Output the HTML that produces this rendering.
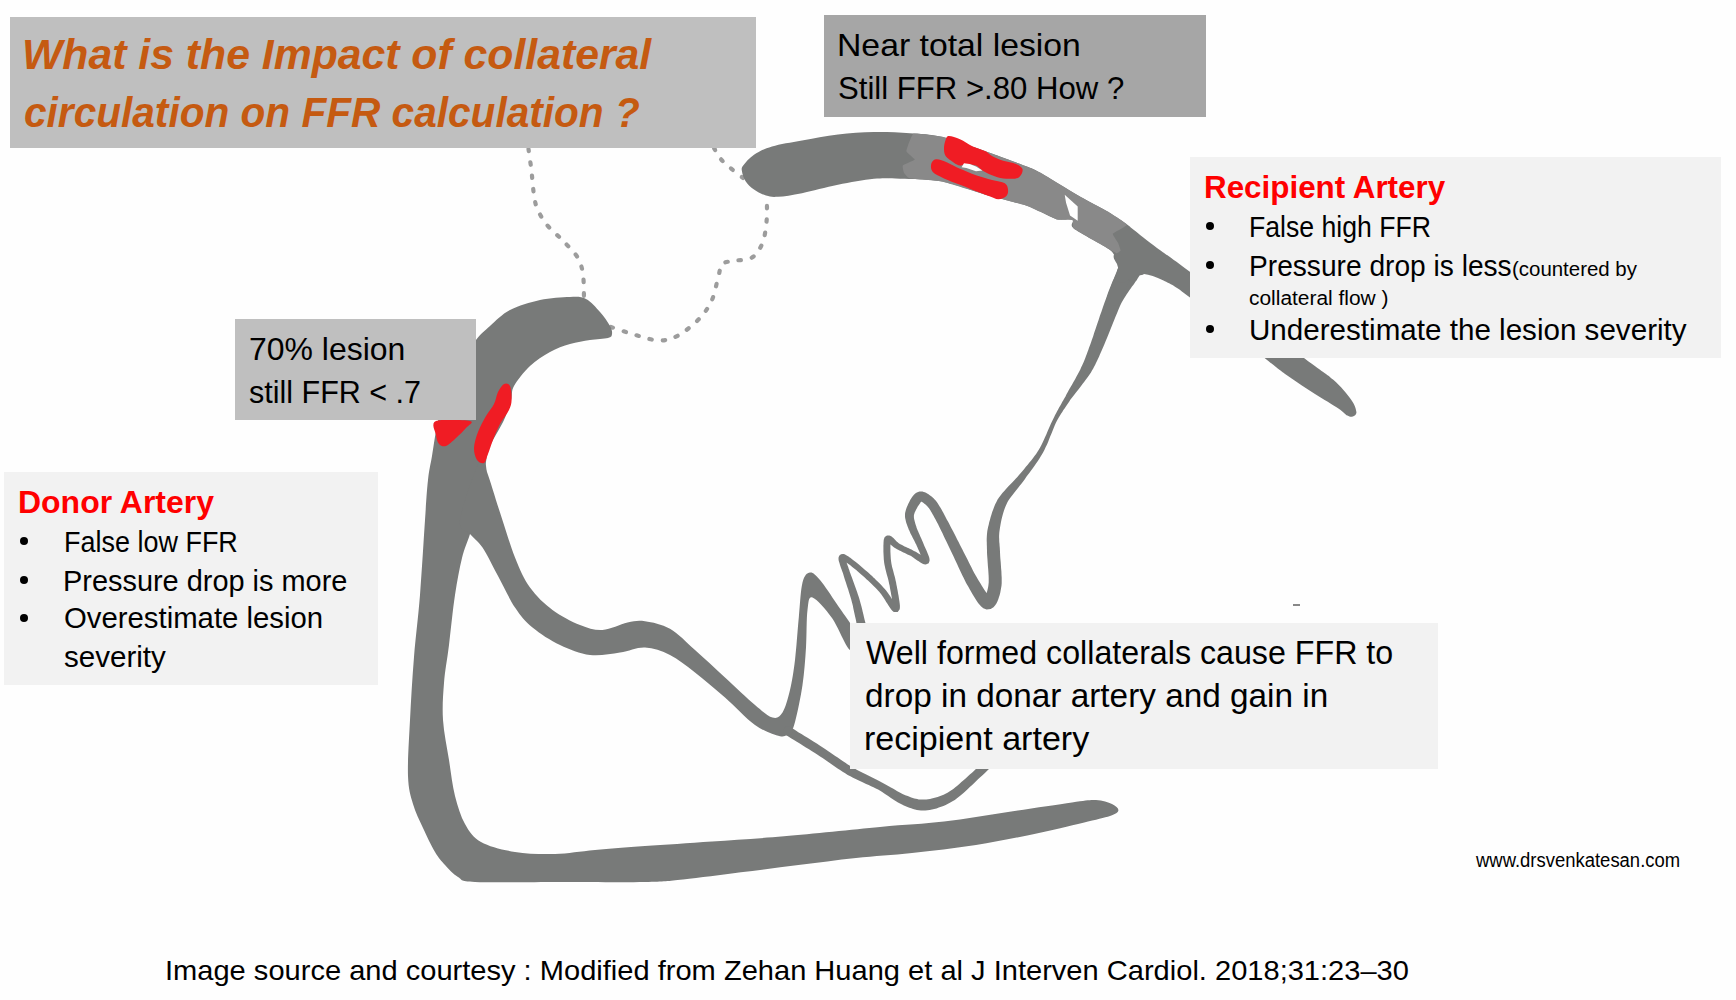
<!DOCTYPE html>
<html><head><meta charset="utf-8"><style>
html,body{margin:0;padding:0;background:#fefefe;width:1736px;height:1000px;overflow:hidden;position:relative}
.b{position:absolute}
.t{position:absolute;font-family:"Liberation Sans",sans-serif;white-space:nowrap;transform-origin:0 0}
.dot{position:absolute;width:8px;height:8px;border-radius:50%;background:#000}
svg{position:absolute;left:0;top:0}
</style></head><body>

<svg width="1736" height="1000" viewBox="0 0 1736 1000"><path d="M528.5,149.0 C528.9,152.0 530.3,161.7 531.0,167.0 C531.7,172.3 532.0,176.3 532.5,181.0 C533.0,185.7 533.2,190.5 534.0,195.0 C534.8,199.5 535.0,203.2 537.0,208.0 C539.0,212.8 541.9,218.5 546.2,224.0 C550.5,229.5 557.8,235.2 563.0,240.8 C568.2,246.4 574.4,252.0 577.7,257.6 C581.0,263.2 582.0,267.8 583.0,274.4 C584.0,281.0 583.8,293.2 584.0,297.0" fill="none" stroke="#9c9c9c" stroke-width="4.2" stroke-linecap="round" stroke-linejoin="round" stroke-dasharray="2.4 11"/><path d="M611.0,327.0 C615.2,328.4 628.4,333.1 636.5,335.3 C644.6,337.6 652.6,340.5 659.6,340.5 C666.6,340.5 671.9,339.0 678.5,335.3 C685.1,331.6 693.9,324.4 699.5,318.5 C705.1,312.6 709.0,306.6 712.1,299.6 C715.2,292.6 716.6,282.4 718.4,276.5 C720.1,270.6 719.8,266.5 722.6,263.9 C725.4,261.3 730.3,261.8 735.2,260.7 C740.1,259.6 747.5,260.6 752.0,257.6 C756.5,254.6 760.0,249.2 762.5,242.9 C765.0,236.6 766.0,227.6 766.7,219.8 C767.4,212.0 766.7,200.0 766.7,196.0" fill="none" stroke="#9c9c9c" stroke-width="4.2" stroke-linecap="round" stroke-linejoin="round" stroke-dasharray="2.4 11"/><path d="M714.0,148.0 C715.4,150.2 717.8,156.0 722.6,161.0 C727.4,166.0 739.6,175.2 743.0,178.0" fill="none" stroke="#9c9c9c" stroke-width="4.2" stroke-linecap="round" stroke-linejoin="round" stroke-dasharray="2.4 11"/><path d="M612.0,334.0 C612.3,332.0 612.0,329.7 610.0,326.0 C608.0,322.3 604.0,316.5 600.0,312.0 C596.0,307.5 591.0,301.5 586.0,299.0 C581.0,296.5 577.7,296.8 570.0,297.0 C562.3,297.2 550.0,297.8 540.0,300.0 C530.0,302.2 518.3,305.7 510.0,310.0 C501.7,314.3 495.7,321.0 490.0,326.0 C484.3,331.0 481.0,333.5 476.0,340.0 C471.0,346.5 464.8,355.8 460.0,365.0 C455.2,374.2 450.7,385.7 447.0,395.0 C443.3,404.3 440.5,410.8 438.0,421.0 C435.5,431.2 433.7,446.2 432.0,456.0 C430.3,465.8 429.2,469.3 428.0,480.0 C426.8,490.7 426.3,500.8 425.0,520.0 C423.7,539.2 421.8,572.2 420.0,595.0 C418.2,617.8 415.7,636.2 414.0,657.0 C412.3,677.8 411.0,700.2 410.0,720.0 C409.0,739.8 407.5,762.0 408.0,776.0 C408.5,790.0 410.5,795.3 413.0,804.0 C415.5,812.7 419.3,820.0 423.0,828.0 C426.7,836.0 431.3,845.8 435.0,852.0 C438.7,858.2 441.2,860.8 445.0,865.0 C448.8,869.2 453.0,874.2 458.0,877.0 C463.0,879.8 458.0,881.2 475.0,882.0 C492.0,882.8 531.7,882.0 560.0,882.0 C588.3,882.0 624.5,882.4 645.0,882.0 C665.5,881.6 667.0,881.1 683.0,879.5 C699.0,877.9 721.6,874.7 740.8,872.3 C760.0,869.9 779.2,867.5 798.4,865.1 C817.6,862.7 837.1,860.0 856.0,858.0 C874.9,856.0 892.0,855.2 912.0,853.0 C932.0,850.8 954.7,848.4 976.0,845.0 C997.3,841.6 1021.3,836.7 1040.0,832.8 C1058.7,828.9 1076.0,824.5 1088.0,821.6 C1100.0,818.7 1106.9,817.1 1112.0,815.2 C1117.1,813.3 1118.4,811.9 1118.4,810.0 C1118.4,808.1 1115.7,805.7 1112.0,804.0 C1108.3,802.3 1102.7,800.3 1096.0,800.0 C1089.3,799.7 1086.7,800.4 1072.0,802.4 C1057.3,804.4 1029.3,808.8 1008.0,812.0 C986.7,815.2 965.3,819.1 944.0,821.6 C922.7,824.1 906.7,824.5 880.0,827.0 C853.3,829.5 812.0,833.9 784.0,836.3 C756.0,838.7 735.2,839.8 712.0,841.4 C688.8,843.0 664.5,844.6 645.0,846.0 C625.5,847.4 610.0,848.7 595.0,850.0 C580.0,851.3 568.3,853.7 555.0,854.0 C541.7,854.3 527.3,854.0 515.0,852.0 C502.7,850.0 489.3,846.7 481.0,842.0 C472.7,837.3 469.3,831.7 465.0,824.0 C460.7,816.3 457.7,806.7 455.0,796.0 C452.3,785.3 451.0,772.7 449.0,760.0 C447.0,747.3 443.8,732.8 443.0,720.0 C442.2,707.2 443.0,695.5 444.0,683.0 C445.0,670.5 447.2,659.7 449.0,645.0 C450.8,630.3 452.8,609.5 455.0,595.0 C457.2,580.5 459.5,568.2 462.0,558.0 C464.5,547.8 467.3,542.8 470.0,534.0 C472.7,525.2 475.3,514.8 478.0,505.0 C480.7,495.2 484.7,482.2 486.0,475.0 C487.3,467.8 485.3,466.8 486.0,462.0 C486.7,457.2 487.0,453.0 490.0,446.0 C493.0,439.0 500.5,427.7 504.0,420.0 C507.5,412.3 509.3,405.7 511.0,400.0 C512.7,394.3 510.8,391.7 514.0,386.0 C517.2,380.3 524.0,371.7 530.0,366.0 C536.0,360.3 543.3,355.7 550.0,352.0 C556.7,348.3 563.3,346.0 570.0,344.0 C576.7,342.0 583.7,341.0 590.0,340.0 C596.3,339.0 604.3,339.0 608.0,338.0 C611.7,337.0 611.7,336.0 612.0,334.0Z" fill="#787a79"/><path d="M480.0,460.0 C484.5,452.0 483.7,463.2 487.0,472.0 C490.3,480.8 495.3,498.2 500.0,512.5 C504.7,526.8 510.0,545.0 515.0,557.5 C520.0,570.0 523.8,578.8 530.0,587.5 C536.2,596.2 544.2,603.8 552.5,610.0 C560.8,616.2 571.7,621.7 580.0,625.0 C588.3,628.3 594.6,630.4 602.5,630.0 C610.4,629.6 620.4,624.0 627.5,622.5 C634.6,621.0 637.9,620.2 645.0,621.2 C652.1,622.3 661.7,624.0 670.0,628.8 C678.3,633.5 685.8,641.9 695.0,650.0 C704.2,658.1 715.0,668.3 725.0,677.5 C735.0,686.7 747.1,698.3 755.0,705.0 C762.9,711.7 767.9,716.2 772.5,717.5 C777.1,718.8 779.6,717.1 782.5,712.5 C785.4,707.9 787.9,698.8 790.0,690.0 C792.1,681.2 793.5,672.1 795.0,660.0 C796.5,647.9 797.5,630.4 798.8,617.5 C800.0,604.6 800.6,590.0 802.5,582.5 C804.4,575.0 807.1,572.9 810.0,572.5 C812.9,572.1 815.4,574.6 820.0,580.0 C824.6,585.4 830.8,595.0 837.5,605.0 C844.2,615.0 857.9,632.5 860.0,640.0 C862.1,647.5 854.7,653.7 850.0,650.0 C845.3,646.3 838.2,626.8 832.0,618.0 C825.8,609.2 816.6,598.8 812.5,597.5 C808.4,596.2 808.6,601.7 807.5,610.0 C806.4,618.3 806.8,635.0 806.0,647.5 C805.2,660.0 804.3,672.6 802.5,685.0 C800.7,697.4 797.1,714.2 795.0,722.0 C792.9,729.8 792.5,729.6 790.0,732.0 C787.5,734.4 785.8,737.4 780.0,736.2 C774.2,735.1 764.2,731.5 755.0,725.0 C745.8,718.5 735.0,706.2 725.0,697.5 C715.0,688.8 704.2,679.6 695.0,672.5 C685.8,665.4 678.3,659.2 670.0,655.0 C661.7,650.8 653.3,647.9 645.0,647.5 C636.7,647.1 629.2,651.2 620.0,652.5 C610.8,653.8 600.0,656.2 590.0,655.0 C580.0,653.8 569.6,649.6 560.0,645.0 C550.4,640.4 540.0,633.8 532.5,627.5 C525.0,621.2 520.8,616.2 515.0,607.5 C509.2,598.8 502.9,585.0 497.5,575.0 C492.1,565.0 487.1,554.3 482.5,547.5 C477.9,540.7 473.8,538.6 470.0,534.0 C466.2,529.4 458.3,532.3 460.0,520.0 C461.7,507.7 475.5,468.0 480.0,460.0Z" fill="#787a79"/><path d="M785.6,734.8 L787.2,735.8 L789.1,737.0 L791.4,738.4 L794.0,740.0 L796.8,741.7 L799.8,743.6 L802.8,745.5 L805.9,747.4 L809.0,749.3 L812.0,751.2 L814.9,753.1 L817.6,754.8 L820.1,756.4 L822.6,758.1 L825.1,759.8 L827.6,761.5 L830.1,763.3 L832.6,765.0 L835.1,766.7 L837.6,768.4 L840.1,770.1 L842.6,771.8 L845.2,773.3 L847.7,774.9 L850.4,776.3 L853.0,777.7 L855.7,779.0 L858.3,780.3 L861.0,781.5 L863.6,782.7 L866.1,783.9 L868.7,785.0 L871.1,786.2 L873.5,787.3 L875.9,788.4 L878.1,789.5 L880.2,790.8 L882.2,792.1 L884.3,793.4 L886.2,794.7 L888.2,796.1 L890.2,797.4 L892.1,798.7 L894.0,800.0 L896.0,801.3 L898.0,802.5 L900.0,803.6 L902.0,804.6 L903.9,805.4 L905.7,806.2 L907.5,807.0 L909.4,807.7 L911.2,808.3 L913.1,808.9 L915.0,809.5 L916.9,809.9 L918.9,810.2 L921.0,810.4 L923.2,810.5 L925.3,810.5 L927.5,810.3 L929.7,809.9 L932.0,809.5 L934.2,809.0 L936.5,808.4 L938.8,807.6 L941.1,806.8 L943.4,805.9 L945.7,804.9 L948.0,803.8 L950.3,802.6 L952.5,801.3 L954.8,799.9 L957.0,798.3 L959.2,796.6 L961.4,794.8 L963.5,793.0 L965.7,791.1 L967.8,789.1 L969.8,787.1 L971.9,785.2 L974.0,783.2 L976.0,781.2 L978.0,779.3 L980.2,777.3 L982.5,775.2 L984.9,772.9 L987.4,770.6 L989.8,768.2 L992.2,765.9 L994.5,763.7 L996.7,761.5 L998.7,759.6 L1000.4,757.9 L1001.9,756.4 L1003.1,755.2 L996.9,748.8 L995.7,749.9 L994.1,751.4 L992.4,753.2 L990.4,755.1 L988.2,757.2 L985.9,759.5 L983.6,761.8 L981.1,764.1 L978.7,766.4 L976.4,768.6 L974.1,770.7 L972.0,772.7 L969.8,774.6 L967.7,776.5 L965.6,778.4 L963.5,780.3 L961.4,782.1 L959.3,783.9 L957.3,785.7 L955.3,787.3 L953.3,788.9 L951.3,790.3 L949.4,791.6 L947.5,792.7 L945.5,793.7 L943.6,794.7 L941.6,795.5 L939.6,796.3 L937.6,797.0 L935.7,797.6 L933.7,798.1 L931.8,798.6 L930.0,798.9 L928.1,799.2 L926.3,799.4 L924.7,799.5 L923.1,799.6 L921.6,799.6 L920.1,799.5 L918.7,799.4 L917.3,799.1 L915.8,798.8 L914.3,798.4 L912.8,797.9 L911.2,797.4 L909.5,796.8 L907.8,796.1 L906.0,795.4 L904.2,794.7 L902.5,793.9 L900.7,793.0 L898.8,792.0 L896.9,791.0 L895.0,789.8 L892.9,788.6 L890.9,787.4 L888.7,786.2 L886.5,784.9 L884.2,783.7 L881.9,782.5 L879.6,781.2 L877.2,780.0 L874.7,778.7 L872.2,777.5 L869.7,776.3 L867.2,775.0 L864.7,773.8 L862.1,772.5 L859.6,771.2 L857.1,769.9 L854.7,768.5 L852.3,767.1 L849.9,765.7 L847.4,764.2 L845.0,762.6 L842.6,761.0 L840.1,759.3 L837.7,757.6 L835.2,755.9 L832.7,754.2 L830.2,752.4 L827.6,750.7 L825.1,748.9 L822.4,747.2 L819.7,745.5 L816.8,743.6 L813.8,741.7 L810.7,739.8 L807.6,737.8 L804.5,735.9 L801.5,734.1 L798.7,732.4 L796.2,730.8 L793.9,729.3 L791.9,728.1 L790.4,727.2Z" fill="#787a79"/><circle cx="788.0" cy="731.0" r="4.5" fill="#787a79"/><circle cx="1000.0" cy="752.0" r="4.5" fill="#787a79"/><path d="M866.4,627.0 L866.1,625.8 L865.7,624.1 L865.2,622.1 L864.6,619.8 L864.0,617.3 L863.4,614.6 L862.7,611.8 L862.1,609.0 L861.4,606.3 L860.7,603.7 L860.0,601.2 L859.4,598.9 L858.7,596.7 L857.9,594.4 L857.1,592.0 L856.2,589.5 L855.3,587.0 L854.4,584.5 L853.5,582.1 L852.7,579.8 L851.9,577.5 L851.1,575.5 L850.4,573.6 L849.8,571.9 L849.3,570.3 L848.7,568.7 L848.2,567.1 L847.6,565.5 L847.1,564.1 L846.6,562.7 L846.2,561.4 L845.9,560.3 L845.6,559.4 L845.5,558.7 L845.5,558.5 L845.4,558.8 L844.9,559.7 L843.9,560.5 L843.0,560.7 L842.6,560.6 L842.7,560.6 L843.1,560.7 L843.6,561.0 L844.3,561.3 L845.1,561.8 L845.9,562.3 L846.8,562.8 L847.8,563.4 L848.8,564.2 L850.0,565.1 L851.4,566.2 L852.9,567.4 L854.5,568.7 L856.2,570.1 L857.8,571.6 L859.5,573.0 L861.2,574.4 L862.7,575.8 L864.2,577.0 L865.5,578.2 L866.7,579.4 L868.0,580.5 L869.3,581.7 L870.6,583.0 L871.9,584.2 L873.1,585.5 L874.4,586.7 L875.7,588.0 L876.9,589.3 L878.0,590.5 L879.2,591.8 L880.2,592.9 L881.2,594.3 L882.4,595.9 L883.6,597.8 L884.9,599.8 L886.2,601.9 L887.6,604.0 L888.8,606.0 L890.0,607.8 L891.2,609.4 L892.3,610.7 L893.8,612.0 L897.7,612.0 L899.7,609.3 L899.9,607.5 L899.9,605.6 L899.7,603.5 L899.4,601.2 L899.0,598.7 L898.6,596.1 L898.1,593.5 L897.7,590.9 L897.2,588.5 L896.8,586.3 L896.4,584.4 L896.1,582.5 L895.6,580.6 L895.2,578.6 L894.7,576.6 L894.1,574.6 L893.6,572.6 L893.1,570.6 L892.6,568.7 L892.1,566.9 L891.7,565.1 L891.4,563.5 L891.2,562.0 L891.0,560.5 L890.8,558.8 L890.7,557.1 L890.6,555.3 L890.5,553.4 L890.4,551.6 L890.4,549.9 L890.4,548.2 L890.4,546.7 L890.4,545.3 L890.5,544.1 L890.5,543.2 L890.5,542.4 L890.6,541.8 L890.6,541.3 L890.7,540.9 L890.7,540.8 L890.7,541.0 L890.4,541.3 L889.9,541.9 L889.1,542.3 L888.5,542.4 L888.1,542.4 L887.9,542.3 L887.7,542.2 L887.9,542.3 L888.3,542.6 L888.9,543.0 L889.5,543.6 L890.3,544.2 L891.1,544.9 L892.0,545.7 L892.9,546.4 L893.8,547.2 L894.9,547.9 L895.9,548.5 L897.0,549.2 L898.1,549.8 L899.4,550.4 L900.7,551.1 L902.0,551.8 L903.4,552.4 L904.8,553.1 L906.2,553.7 L907.5,554.4 L908.8,555.0 L910.0,555.6 L911.1,556.1 L912.1,556.8 L913.2,557.5 L914.5,558.4 L915.9,559.4 L917.3,560.4 L918.7,561.3 L920.0,562.2 L921.3,563.1 L922.6,563.8 L923.9,564.3 L925.8,564.6 L928.7,563.2 L929.6,560.7 L929.5,559.1 L929.2,557.6 L928.7,556.1 L928.1,554.5 L927.4,552.8 L926.7,551.0 L925.9,549.3 L925.1,547.6 L924.4,545.9 L923.8,544.5 L923.2,543.1 L922.7,541.8 L922.1,540.4 L921.5,538.9 L920.8,537.4 L920.1,535.9 L919.5,534.4 L918.8,533.0 L918.2,531.6 L917.6,530.2 L917.1,528.9 L916.6,527.7 L916.3,526.6 L915.9,525.5 L915.6,524.4 L915.2,523.3 L914.9,522.1 L914.6,521.1 L914.4,520.0 L914.1,519.0 L914.0,518.0 L913.9,517.2 L913.9,516.3 L913.9,515.6 L914.0,515.0 L914.1,514.4 L914.4,513.6 L914.7,512.6 L915.2,511.5 L915.7,510.4 L916.3,509.3 L916.9,508.2 L917.5,507.1 L918.1,506.1 L918.7,505.2 L919.2,504.4 L919.7,503.8 L920.1,503.2 L920.4,502.6 L920.8,502.2 L921.1,501.8 L921.3,501.5 L921.5,501.3 L921.6,501.3 L921.6,501.3 L921.4,501.4 L921.2,501.4 L920.9,501.4 L920.6,501.4 L920.7,501.4 L921.0,501.6 L921.5,501.8 L922.1,502.1 L922.9,502.6 L923.6,503.1 L924.4,503.7 L925.2,504.3 L926.0,505.0 L926.8,505.7 L927.5,506.4 L928.1,507.2 L928.8,508.0 L929.5,509.0 L930.2,510.1 L931.0,511.4 L931.8,512.7 L932.6,514.2 L933.5,515.7 L934.4,517.4 L935.3,519.0 L936.2,520.8 L937.1,522.5 L938.1,524.3 L939.0,526.3 L940.1,528.4 L941.2,530.8 L942.5,533.3 L943.7,535.9 L945.0,538.7 L946.4,541.4 L947.7,544.2 L949.0,546.9 L950.2,549.6 L951.4,552.1 L952.6,554.4 L953.7,556.8 L954.8,559.2 L956.0,561.8 L957.3,564.5 L958.5,567.3 L959.8,570.0 L961.1,572.7 L962.4,575.4 L963.7,578.0 L964.9,580.5 L966.1,582.9 L967.3,585.0 L968.5,587.1 L969.7,589.3 L971.0,591.6 L972.4,593.9 L973.8,596.3 L975.2,598.6 L976.6,600.8 L978.1,602.9 L979.6,604.8 L981.2,606.5 L983.3,608.2 L986.6,609.4 L990.7,608.9 L993.5,607.2 L995.2,605.3 L996.4,603.4 L997.4,601.4 L998.3,599.3 L999.0,597.1 L999.7,594.9 L1000.3,592.6 L1000.7,590.3 L1001.1,588.0 L1001.5,585.7 L1001.7,583.2 L1001.7,580.5 L1001.7,577.6 L1001.5,574.6 L1001.4,571.4 L1001.1,568.3 L1000.9,565.1 L1000.7,562.0 L1000.4,559.1 L1000.2,556.3 L1000.1,553.9 L1000.0,551.8 L999.9,549.7 L999.8,547.7 L999.6,545.8 L999.5,544.0 L999.3,542.2 L999.2,540.5 L999.2,538.9 L999.1,537.3 L999.1,535.7 L999.2,534.2 L999.3,532.6 L999.5,531.0 L999.8,529.1 L1000.1,527.0 L1000.5,524.8 L1000.9,522.5 L1001.4,520.1 L1002.0,517.6 L1002.6,515.2 L1003.3,512.8 L1004.0,510.5 L1004.8,508.3 L1005.6,506.2 L1006.4,504.4 L1007.3,502.6 L1008.4,500.6 L1009.8,498.6 L1011.3,496.5 L1012.9,494.4 L1014.6,492.2 L1016.4,490.0 L1018.2,487.8 L1019.9,485.6 L1021.6,483.4 L1023.3,481.2 L1024.8,479.2 L1026.2,477.1 L1027.7,475.1 L1029.3,472.9 L1030.9,470.7 L1032.6,468.4 L1034.2,466.2 L1035.9,463.8 L1037.5,461.5 L1039.0,459.2 L1040.5,456.8 L1041.9,454.5 L1043.2,452.2 L1044.4,449.9 L1045.6,447.3 L1046.9,444.7 L1048.1,441.9 L1049.2,439.0 L1050.4,436.1 L1051.6,433.3 L1052.7,430.5 L1053.8,427.8 L1054.8,425.3 L1055.8,423.0 L1056.8,420.9 L1057.9,419.0 L1058.9,417.2 L1060.0,415.4 L1061.2,413.6 L1062.3,411.9 L1063.4,410.1 L1064.6,408.4 L1065.7,406.7 L1066.9,404.9 L1068.1,403.2 L1069.3,401.4 L1070.5,399.6 L1071.9,397.8 L1073.5,395.7 L1075.2,393.6 L1077.0,391.3 L1078.8,388.9 L1080.7,386.5 L1082.5,384.1 L1084.3,381.7 L1086.1,379.3 L1087.8,377.0 L1089.4,374.7 L1090.8,372.7 L1092.0,370.6 L1093.1,368.7 L1094.1,366.7 L1095.2,364.8 L1096.1,362.8 L1097.1,360.8 L1098.0,358.8 L1099.0,356.7 L1099.9,354.5 L1100.9,352.3 L1101.9,349.9 L1103.0,347.4 L1104.3,344.5 L1105.7,341.1 L1107.2,337.4 L1108.8,333.4 L1110.5,329.2 L1112.2,325.0 L1113.9,320.8 L1115.6,316.6 L1117.2,312.7 L1118.7,309.1 L1120.1,305.8 L1121.4,303.1 L1122.7,300.8 L1124.0,298.6 L1125.3,296.4 L1126.7,294.3 L1128.1,292.2 L1129.4,290.3 L1130.7,288.4 L1132.0,286.6 L1133.3,284.9 L1134.5,283.2 L1135.6,281.6 L1136.7,280.2 L1137.5,278.8 L1138.3,277.4 L1139.1,276.2 L1139.9,274.9 L1140.6,273.7 L1141.3,272.6 L1142.0,271.5 L1142.6,270.5 L1143.2,269.7 L1143.7,268.9 L1144.2,268.2 L1144.6,267.7 L1123.4,256.3 L1123.2,256.9 L1122.9,257.6 L1122.6,258.4 L1122.1,259.4 L1121.7,260.5 L1121.1,261.6 L1120.5,262.8 L1119.9,264.2 L1119.3,265.5 L1118.6,266.9 L1118.0,268.4 L1117.3,269.8 L1116.8,271.3 L1116.1,273.0 L1115.4,274.8 L1114.6,276.8 L1113.7,278.9 L1112.7,281.1 L1111.7,283.5 L1110.7,286.0 L1109.7,288.6 L1108.6,291.2 L1107.6,294.0 L1106.6,296.9 L1105.5,299.9 L1104.2,303.4 L1102.9,307.3 L1101.5,311.4 L1100.0,315.6 L1098.6,320.0 L1097.1,324.3 L1095.7,328.6 L1094.3,332.6 L1093.1,336.4 L1091.9,339.7 L1091.0,342.6 L1090.0,345.2 L1089.1,347.6 L1088.3,349.9 L1087.5,352.1 L1086.8,354.1 L1086.0,356.1 L1085.3,358.0 L1084.5,359.9 L1083.8,361.7 L1083.0,363.6 L1082.1,365.4 L1081.2,367.3 L1080.3,369.4 L1079.1,371.7 L1077.9,374.1 L1076.5,376.6 L1075.1,379.2 L1073.6,381.8 L1072.1,384.4 L1070.6,387.0 L1069.1,389.6 L1067.8,392.0 L1066.5,394.3 L1065.5,396.4 L1064.4,398.3 L1063.3,400.2 L1062.2,402.0 L1061.2,403.9 L1060.2,405.7 L1059.1,407.5 L1058.1,409.4 L1057.1,411.3 L1056.1,413.2 L1055.1,415.1 L1054.2,417.1 L1053.2,419.1 L1052.1,421.2 L1051.0,423.6 L1049.8,426.2 L1048.7,428.8 L1047.5,431.6 L1046.3,434.4 L1045.0,437.2 L1043.8,440.0 L1042.5,442.7 L1041.3,445.2 L1040.1,447.6 L1038.8,449.8 L1037.5,451.8 L1036.1,453.9 L1034.5,456.0 L1032.9,458.2 L1031.2,460.4 L1029.4,462.5 L1027.7,464.7 L1025.9,466.8 L1024.2,468.9 L1022.5,471.0 L1020.8,473.0 L1019.2,474.8 L1017.6,476.7 L1015.9,478.5 L1014.1,480.5 L1012.2,482.5 L1010.2,484.5 L1008.2,486.6 L1006.2,488.7 L1004.3,490.9 L1002.4,493.0 L1000.7,495.2 L999.0,497.4 L997.6,499.6 L996.4,501.9 L995.2,504.3 L994.1,506.9 L993.2,509.4 L992.2,512.1 L991.4,514.7 L990.6,517.3 L989.9,519.9 L989.2,522.3 L988.7,524.7 L988.1,526.9 L987.7,529.0 L987.3,531.1 L987.1,533.1 L986.9,535.1 L986.8,537.1 L986.7,539.0 L986.7,540.9 L986.8,542.8 L986.8,544.6 L986.9,546.5 L986.9,548.3 L987.0,550.2 L987.0,552.2 L987.1,554.6 L987.3,557.2 L987.5,560.1 L987.7,563.0 L987.9,566.1 L988.2,569.2 L988.4,572.3 L988.6,575.2 L988.7,578.0 L988.7,580.5 L988.7,582.6 L988.5,584.3 L988.3,586.0 L988.0,587.8 L987.6,589.6 L987.1,591.5 L986.6,593.2 L986.1,594.8 L985.6,596.1 L985.1,597.1 L984.8,597.6 L984.9,597.5 L986.0,596.8 L988.4,596.6 L989.9,597.1 L989.9,597.1 L989.2,596.4 L988.1,595.2 L986.9,593.6 L985.7,591.8 L984.3,589.7 L982.9,587.6 L981.5,585.3 L980.2,583.1 L978.9,581.0 L977.7,579.0 L976.6,577.1 L975.4,575.0 L974.1,572.7 L972.8,570.2 L971.5,567.6 L970.2,565.0 L968.8,562.3 L967.5,559.6 L966.2,557.0 L964.9,554.4 L963.6,551.9 L962.4,549.6 L961.2,547.2 L959.9,544.8 L958.6,542.1 L957.2,539.5 L955.9,536.7 L954.5,534.0 L953.1,531.3 L951.7,528.7 L950.4,526.2 L949.2,523.8 L948.0,521.6 L946.9,519.7 L946.0,517.9 L945.0,516.1 L944.1,514.3 L943.2,512.6 L942.3,510.9 L941.4,509.3 L940.5,507.7 L939.5,506.2 L938.6,504.7 L937.7,503.3 L936.8,502.0 L935.9,500.8 L934.9,499.7 L933.8,498.6 L932.7,497.6 L931.6,496.6 L930.5,495.7 L929.4,494.9 L928.2,494.1 L927.1,493.4 L926.0,492.8 L924.8,492.3 L923.7,491.9 L922.4,491.6 L920.9,491.4 L919.5,491.6 L918.1,491.9 L916.9,492.4 L915.9,493.1 L915.0,493.8 L914.2,494.5 L913.5,495.3 L912.9,496.0 L912.3,496.8 L911.8,497.5 L911.3,498.2 L910.8,499.1 L910.2,500.1 L909.6,501.3 L909.0,502.5 L908.3,503.8 L907.7,505.2 L907.1,506.6 L906.5,508.1 L906.0,509.5 L905.6,511.0 L905.2,512.5 L905.0,514.0 L905.0,515.4 L905.0,516.8 L905.2,518.2 L905.5,519.6 L905.8,520.9 L906.1,522.2 L906.5,523.4 L907.0,524.7 L907.4,525.9 L907.8,527.1 L908.3,528.2 L908.7,529.4 L909.3,530.6 L909.9,532.0 L910.5,533.4 L911.2,534.8 L912.0,536.3 L912.7,537.7 L913.5,539.2 L914.2,540.6 L914.9,542.0 L915.6,543.4 L916.2,544.6 L916.8,545.9 L917.4,547.2 L918.0,548.8 L918.8,550.4 L919.5,552.1 L920.2,553.8 L920.9,555.4 L921.6,557.0 L922.1,558.4 L922.5,559.5 L922.6,560.2 L922.7,560.3 L923.3,558.8 L925.4,557.7 L925.9,557.8 L925.4,557.7 L924.6,557.2 L923.5,556.6 L922.2,555.9 L920.8,555.0 L919.4,554.1 L918.0,553.2 L916.6,552.3 L915.2,551.5 L913.9,550.9 L912.7,550.2 L911.5,549.6 L910.1,549.0 L908.8,548.3 L907.4,547.7 L906.0,547.0 L904.6,546.4 L903.3,545.7 L902.1,545.1 L900.9,544.5 L899.9,544.0 L899.1,543.5 L898.4,542.9 L897.7,542.3 L896.9,541.7 L896.2,541.0 L895.5,540.2 L894.8,539.5 L894.1,538.8 L893.4,538.1 L892.7,537.4 L892.0,536.8 L891.1,536.2 L890.1,535.7 L889.2,535.5 L888.2,535.4 L887.0,535.6 L885.8,536.2 L884.8,537.1 L884.3,538.1 L884.0,538.9 L883.8,539.6 L883.7,540.4 L883.6,541.1 L883.6,541.9 L883.5,542.8 L883.5,543.9 L883.4,545.2 L883.4,546.6 L883.4,548.2 L883.4,550.0 L883.4,551.8 L883.5,553.7 L883.6,555.6 L883.7,557.5 L883.8,559.4 L884.0,561.2 L884.2,563.0 L884.5,564.8 L884.9,566.6 L885.3,568.5 L885.8,570.4 L886.3,572.4 L886.8,574.4 L887.4,576.4 L887.9,578.3 L888.4,580.3 L888.8,582.1 L889.2,583.9 L889.6,585.6 L889.9,587.6 L890.3,589.8 L890.8,592.2 L891.2,594.7 L891.7,597.3 L892.1,599.8 L892.5,602.2 L892.7,604.3 L892.9,606.1 L892.9,607.3 L892.9,607.6 L894.3,606.0 L897.1,605.9 L897.2,605.9 L896.5,605.1 L895.5,603.9 L894.3,602.3 L893.0,600.4 L891.6,598.4 L890.2,596.3 L888.8,594.3 L887.4,592.3 L886.1,590.6 L884.8,589.1 L883.6,587.8 L882.5,586.4 L881.2,585.1 L880.0,583.8 L878.7,582.5 L877.4,581.2 L876.0,579.9 L874.7,578.6 L873.4,577.4 L872.1,576.1 L870.8,574.9 L869.5,573.8 L868.2,572.6 L866.7,571.3 L865.1,569.9 L863.4,568.4 L861.7,567.0 L860.0,565.5 L858.3,564.1 L856.7,562.8 L855.1,561.5 L853.7,560.4 L852.4,559.4 L851.2,558.6 L850.3,557.8 L849.4,557.2 L848.5,556.5 L847.6,555.9 L846.7,555.4 L845.9,554.9 L845.0,554.5 L844.0,554.1 L842.7,554.0 L841.0,554.3 L839.4,555.5 L838.6,557.2 L838.5,558.7 L838.6,559.9 L838.8,561.0 L839.2,562.3 L839.6,563.6 L840.0,564.9 L840.5,566.4 L841.0,567.9 L841.6,569.4 L842.1,571.0 L842.7,572.5 L843.2,574.1 L843.7,575.8 L844.3,577.8 L845.0,579.9 L845.8,582.2 L846.5,584.5 L847.3,587.0 L848.2,589.5 L848.9,592.0 L849.7,594.4 L850.4,596.8 L851.1,599.0 L851.6,601.1 L852.2,603.2 L852.8,605.6 L853.3,608.2 L853.9,610.9 L854.5,613.7 L855.1,616.4 L855.7,619.1 L856.2,621.6 L856.6,623.9 L857.0,626.0 L857.4,627.7 L857.6,629.0Z" fill="#787a79"/><circle cx="862.0" cy="628.0" r="4.5" fill="#787a79"/><circle cx="1134.0" cy="262.0" r="12.0" fill="#787a79"/><path d="M1114.0,254.5 C1112.0,259.1 1118.2,262.9 1118.0,267.5 C1117.8,272.1 1114.8,276.1 1112.8,281.8 C1110.8,287.6 1106.0,298.1 1106.0,302.0 C1106.0,305.9 1111.0,304.7 1113.0,305.0 C1115.0,305.3 1116.1,306.5 1118.0,304.0 C1119.9,301.5 1121.9,294.6 1124.5,290.0 C1127.1,285.4 1130.3,279.3 1133.6,276.6 C1136.8,273.9 1141.3,276.4 1144.0,274.0 C1146.7,271.6 1152.3,267.7 1150.0,262.0 C1147.7,256.3 1136.0,241.2 1130.0,240.0 C1124.0,238.8 1116.0,249.9 1114.0,254.5Z" fill="#787a79"/><path d="M742.0,171.6 C741.6,169.0 741.2,168.4 743.2,165.6 C745.2,162.8 749.2,158.0 754.0,154.8 C758.8,151.6 764.0,148.8 772.0,146.4 C780.0,144.0 791.0,142.4 802.0,140.4 C813.0,138.4 826.0,135.8 838.0,134.4 C850.0,133.0 862.0,132.2 874.0,132.0 C886.0,131.8 898.7,132.4 910.0,133.2 C921.3,134.0 929.7,133.9 942.0,136.8 C954.3,139.7 970.0,145.9 984.0,150.8 C998.0,155.7 1016.7,162.6 1026.0,166.2 C1035.3,169.8 1031.2,167.6 1040.0,172.6 C1048.8,177.6 1067.7,189.5 1079.0,196.0 C1090.3,202.5 1099.6,206.8 1107.6,211.6 C1115.6,216.4 1122.8,221.6 1127.1,224.6 C1131.4,227.6 1128.6,225.9 1133.6,229.8 C1138.6,233.7 1147.7,241.1 1157.0,248.0 C1166.3,254.9 1165.0,253.1 1189.5,271.4 C1214.0,289.7 1280.1,340.0 1304.0,358.0 C1327.9,376.0 1325.2,372.7 1333.0,379.6 C1340.8,386.5 1347.1,394.0 1351.0,399.4 C1354.9,404.8 1356.1,409.1 1356.4,412.0 C1356.7,414.9 1354.3,415.9 1352.8,416.5 C1351.3,417.1 1349.8,417.0 1347.4,415.6 C1345.0,414.2 1343.8,412.0 1338.4,408.4 C1333.0,404.8 1323.4,399.4 1315.0,394.0 C1306.6,388.6 1296.4,382.0 1288.0,376.0 C1279.6,370.0 1280.9,371.1 1264.6,358.0 C1248.3,344.9 1206.8,310.3 1190.0,297.4 C1173.2,284.5 1171.2,284.4 1163.5,280.5 C1155.8,276.6 1149.0,274.6 1144.0,274.0 C1139.0,273.4 1136.8,275.3 1133.6,276.6 C1130.4,277.9 1127.9,281.4 1125.0,282.0 C1122.1,282.6 1117.2,282.4 1116.0,280.0 C1114.8,277.6 1118.3,271.8 1118.0,267.5 C1117.7,263.2 1116.2,258.0 1114.0,254.5 C1111.8,251.0 1111.7,251.0 1105.0,246.7 C1098.3,242.4 1079.2,232.9 1073.8,228.5 C1068.4,224.1 1075.3,221.5 1072.5,220.0 C1069.7,218.5 1062.4,220.8 1057.0,219.4 C1051.6,218.0 1045.2,213.9 1040.0,211.6 C1034.8,209.3 1035.3,208.3 1026.0,205.4 C1016.7,202.5 998.0,198.2 984.0,194.2 C970.0,190.2 956.0,184.2 942.0,181.6 C928.0,179.0 911.3,179.3 900.0,178.8 C888.7,178.3 884.3,177.8 874.0,178.8 C863.7,179.8 850.0,182.4 838.0,184.8 C826.0,187.2 812.0,191.2 802.0,193.2 C792.0,195.2 784.0,196.4 778.0,196.8 C772.0,197.2 770.0,196.8 766.0,195.6 C762.0,194.4 757.4,192.0 754.0,189.6 C750.6,187.2 747.6,184.2 745.6,181.2 C743.6,178.2 742.4,174.2 742.0,171.6Z" fill="#787a79"/><path d="M913.6,133.5 C915.4,132.8 938.5,135.9 942.0,136.8 C945.5,137.7 979.8,149.3 984.0,150.8 C988.2,152.3 1023.2,165.1 1026.0,166.2 C1028.8,167.3 1037.3,171.1 1040.0,172.6 C1042.7,174.1 1075.6,194.1 1079.0,196.0 C1082.4,197.9 1105.2,210.2 1107.6,211.6 C1110.0,213.0 1126.7,223.5 1127.0,224.6 C1127.3,225.7 1113.2,232.8 1112.8,233.7 C1112.3,234.6 1117.6,242.0 1118.0,242.8 C1118.4,243.6 1120.7,250.1 1120.6,250.6 C1120.5,251.1 1117.5,253.4 1116.7,253.2 C1115.9,253.0 1107.1,247.9 1105.0,246.7 C1102.9,245.5 1075.4,229.8 1073.8,228.5 C1072.2,227.2 1073.3,220.5 1072.5,220.0 C1071.7,219.5 1058.6,219.8 1057.0,219.4 C1055.4,219.0 1041.5,212.3 1040.0,211.6 C1038.5,210.9 1028.8,206.3 1026.0,205.4 C1023.2,204.5 988.2,195.4 984.0,194.2 C979.8,193.0 945.7,182.4 942.0,181.6 C938.3,180.8 911.9,179.0 910.0,178.6 C908.1,178.2 904.4,173.5 904.0,172.8 C903.6,172.2 902.3,166.3 902.8,165.6 C903.3,164.9 914.6,160.3 914.8,159.6 C915.0,158.9 906.5,152.5 906.4,151.2 C906.3,149.9 911.8,134.2 913.6,133.5Z" fill="#898989"/><path d="M1064.7,194.7 L1077.7,206.4 L1077.7,220.7 L1070,215.5 L1066,202.5 Z" fill="#fff"/><path d="M948.8,136.0 C951.2,135.9 956.0,137.5 960.0,139.2 C964.0,140.9 968.5,144.4 972.8,146.4 C977.1,148.4 982.4,149.6 985.6,151.2 C988.8,152.8 989.1,154.4 992.0,156.0 C994.9,157.6 999.2,159.5 1003.2,160.8 C1007.2,162.1 1012.8,162.7 1016.0,164.0 C1019.2,165.3 1021.6,166.9 1022.4,168.8 C1023.2,170.7 1021.9,173.6 1020.8,175.2 C1019.7,176.8 1018.9,177.9 1016.0,178.4 C1013.1,178.9 1007.2,178.9 1003.2,178.4 C999.2,177.9 995.5,176.5 992.0,175.2 C988.5,173.9 985.1,172.0 982.4,170.4 C979.7,168.8 978.7,166.7 976.0,165.6 C973.3,164.5 969.1,164.0 966.4,164.0 C963.7,164.0 962.1,165.9 960.0,165.6 C957.9,165.3 956.0,164.0 953.6,162.4 C951.2,160.8 947.2,158.4 945.6,156.0 C944.0,153.6 944.0,150.7 944.0,148.0 C944.0,145.3 944.8,142.0 945.6,140.0 C946.4,138.0 946.4,136.1 948.8,136.0Z" fill="#f01c24"/><path d="M936.0,159.2 C938.7,158.9 943.2,160.8 947.2,162.4 C951.2,164.0 955.2,166.7 960.0,168.8 C964.8,170.9 970.7,173.3 976.0,175.2 C981.3,177.1 987.2,178.7 992.0,180.0 C996.8,181.3 1002.1,181.6 1004.8,183.2 C1007.5,184.8 1007.7,187.5 1008.0,189.6 C1008.3,191.7 1008.0,194.4 1006.4,196.0 C1004.8,197.6 1001.3,199.2 998.4,199.2 C995.5,199.2 992.5,197.3 988.8,196.0 C985.1,194.7 980.8,193.1 976.0,191.2 C971.2,189.3 965.3,186.9 960.0,184.8 C954.7,182.7 948.5,180.5 944.0,178.4 C939.5,176.3 934.9,174.4 932.8,172.0 C930.7,169.6 930.7,166.1 931.2,164.0 C931.7,161.9 933.3,159.5 936.0,159.2Z" fill="#f01c24"/><path d="M964,163.2 L969.6,164 L976,166.4 L982.4,170.4 L976,171.2 L966.4,168 L961.6,167.2Z" fill="#fdfdfd"/><path d="M1293,605 L1300,605" stroke="#888" stroke-width="2"/><path d="M504.0,384.0 C506.0,383.0 508.7,383.3 510.0,386.0 C511.3,388.7 511.8,396.0 511.6,400.0 C511.4,404.0 510.9,406.0 509.0,410.0 C507.1,414.0 502.7,419.0 500.0,424.0 C497.3,429.0 495.0,435.0 493.0,440.0 C491.0,445.0 489.5,450.2 488.0,454.0 C486.5,457.8 485.8,462.0 484.0,463.0 C482.2,464.0 478.7,462.5 477.0,460.0 C475.3,457.5 473.8,452.7 474.0,448.0 C474.2,443.3 476.0,437.3 478.0,432.0 C480.0,426.7 483.3,420.7 486.0,416.0 C488.7,411.3 492.0,408.0 494.0,404.0 C496.0,400.0 496.3,395.3 498.0,392.0 C499.7,388.7 502.0,385.0 504.0,384.0Z" fill="#f01c24"/><path d="M436.0,421.0 C441.7,418.7 465.0,419.8 470.0,421.0 C475.0,422.2 468.3,425.2 466.0,428.0 C463.7,430.8 459.3,435.0 456.0,438.0 C452.7,441.0 448.8,445.0 446.0,446.0 C443.2,447.0 440.7,445.8 439.0,444.0 C437.3,442.2 436.5,438.8 436.0,435.0 C435.5,431.2 430.3,423.3 436.0,421.0Z" fill="#f01c24"/></svg>
<div class="b" style="left:10px;top:17px;width:746px;height:131px;background:#bfbfbf"></div>
<div class="b" style="left:824px;top:15px;width:382px;height:102px;background:#a6a6a6"></div>
<div class="b" style="left:235px;top:319px;width:241px;height:101px;background:#bfbfbf"></div>
<div class="b" style="left:4px;top:472px;width:374px;height:213px;background:#f2f2f2"></div>
<div class="b" style="left:1190px;top:157px;width:531px;height:201px;background:#f2f2f2"></div>
<div class="b" style="left:850px;top:623px;width:588px;height:146px;background:#f2f2f2"></div>
<div class="t" style="left:22.0px;top:32.6px;font-size:43px;line-height:43px;font-weight:700;font-style:italic;color:#c55a11;transform:scaleX(0.9937)">What is the Impact of collateral</div>
<div class="t" style="left:24.1px;top:90.6px;font-size:43px;line-height:43px;font-weight:700;font-style:italic;color:#c55a11;transform:scaleX(0.9440)">circulation on FFR calculation ?</div>
<div class="t" style="left:837.3px;top:28.6px;font-size:32px;line-height:32px;font-weight:400;color:#000;transform:scaleX(1.0544)">Near total lesion</div>
<div class="t" style="left:838.1px;top:71.5px;font-size:32px;line-height:32px;font-weight:400;color:#000;transform:scaleX(0.9725)">Still FFR &gt;.80 How ?</div>
<div class="t" style="left:249.0px;top:333.2px;font-size:32px;line-height:32px;font-weight:400;color:#000;transform:scaleX(0.9984)">70% lesion</div>
<div class="t" style="left:249.0px;top:375.9px;font-size:32px;line-height:32px;font-weight:400;color:#000;transform:scaleX(0.9534)">still FFR &lt; .7</div>
<div class="t" style="left:1204.4px;top:170.9px;font-size:32px;line-height:32px;font-weight:700;color:#ff0000;transform:scaleX(0.9803)">Recipient Artery</div>
<div class="t" style="left:1249.2px;top:212.5px;font-size:29px;line-height:29px;font-weight:400;color:#000;transform:scaleX(0.9179)">False high FFR</div>
<div class="t" style="left:1249.1px;top:251.5px;font-size:29px;line-height:29px;font-weight:400;color:#000;transform:scaleX(0.9701)">Pressure drop is less</div>
<div class="t" style="left:1512.4px;top:258.9px;font-size:20px;line-height:20px;font-weight:400;color:#000;transform:scaleX(1.0215)">(countered by</div>
<div class="t" style="left:1249.0px;top:288.1px;font-size:20px;line-height:20px;font-weight:400;color:#000;transform:scaleX(1.0458)">collateral flow )</div>
<div class="t" style="left:1249.0px;top:315.5px;font-size:29px;line-height:29px;font-weight:400;color:#000;transform:scaleX(1.0206)">Underestimate the lesion severity</div>
<div class="t" style="left:18.2px;top:485.9px;font-size:32px;line-height:32px;font-weight:700;color:#ff0000;transform:scaleX(0.9990)">Donor Artery</div>
<div class="t" style="left:63.5px;top:527.5px;font-size:29px;line-height:29px;font-weight:400;color:#000;transform:scaleX(0.9301)">False low FFR</div>
<div class="t" style="left:63.4px;top:566.5px;font-size:29px;line-height:29px;font-weight:400;color:#000;transform:scaleX(0.9968)">Pressure drop is more</div>
<div class="t" style="left:64.0px;top:604.3px;font-size:29px;line-height:29px;font-weight:400;color:#000;transform:scaleX(1.0110)">Overestimate lesion</div>
<div class="t" style="left:63.7px;top:642.5px;font-size:29px;line-height:29px;font-weight:400;color:#000;transform:scaleX(1.0192)">severity</div>
<div class="t" style="left:865.6px;top:636.1px;font-size:33px;line-height:33px;font-weight:400;color:#000;transform:scaleX(0.9755)">Well formed collaterals cause FFR to</div>
<div class="t" style="left:865.0px;top:679.4px;font-size:33px;line-height:33px;font-weight:400;color:#000;transform:scaleX(1.0101)">drop in donar artery and gain in</div>
<div class="t" style="left:864.3px;top:722.1px;font-size:33px;line-height:33px;font-weight:400;color:#000;transform:scaleX(1.0319)">recipient artery</div>
<div class="t" style="left:1476.3px;top:851.0px;font-size:19.5px;line-height:19.5px;font-weight:400;color:#000;transform:scaleX(0.9465)">www.drsvenkatesan.com</div>
<div class="t" style="left:165.2px;top:957.1px;font-size:27.6px;line-height:27.6px;font-weight:400;color:#000;transform:scaleX(1.0532)">Image source and courtesy : Modified from Zehan Huang et al J Interven Cardiol. 2018;31:23–30</div>
<div class="dot" style="left:20.0px;top:537.0px"></div>
<div class="dot" style="left:20.0px;top:575.7px"></div>
<div class="dot" style="left:20.0px;top:614.0px"></div>
<div class="dot" style="left:1206.0px;top:222.0px"></div>
<div class="dot" style="left:1206.0px;top:261.0px"></div>
<div class="dot" style="left:1206.0px;top:325.0px"></div>
</body></html>
